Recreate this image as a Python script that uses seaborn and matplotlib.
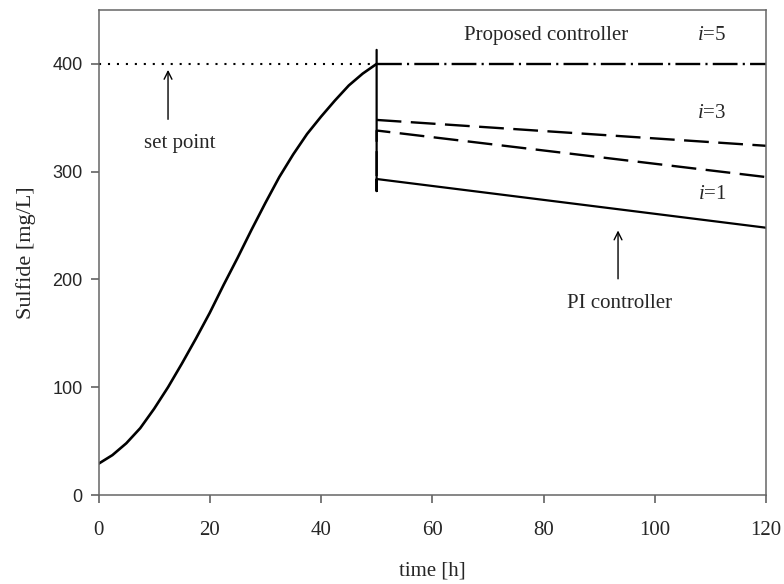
import matplotlib
matplotlib.use("Agg")
import matplotlib.pyplot as plt
import seaborn as sns
import pandas as pd

# ---- data ----
t_rise = [0, 2.5, 5, 7.5, 10, 12.5, 15, 17.5, 20, 22.5, 25, 27.5, 30, 32.5,
          35, 37.5, 40, 42.5, 45, 47.5, 50]
s_rise = [29, 37, 48, 62, 80, 100, 122, 145, 169, 195, 220, 246, 271, 295,
          316, 335, 351, 366, 380, 391, 400]

t_setpoint = [0, 50]
s_setpoint = [400, 400]

t_pi = [50, 50, 50, 50.3, 120]
s_pi = [413, 282, 293, 293, 248]

t_i1 = [50, 50, 50.3, 120]
s_i1 = [296, 338, 338, 295]

t_i3 = [50, 120]
s_i3 = [348, 324]

t_i5 = [50, 120]
s_i5 = [400, 400]

x_ticks = [0, 20, 40, 60, 80, 100, 120]
y_ticks = [0, 100, 200, 300, 400]

sns.set_style("ticks")
plt.rcParams["font.family"] = ["Liberation Serif", "DejaVu Serif"]
plt.rcParams["mathtext.fontset"] = "custom"
plt.rcParams["mathtext.rm"] = "Liberation Serif"
plt.rcParams["mathtext.it"] = "Liberation Serif:italic"

fig = plt.figure(figsize=(7.84, 5.84), dpi=100)
ax = fig.add_axes([98.5 / 784, 1 - 495 / 584, (766 - 98.5) / 784, (495 - 10) / 584])

def draw(t, s, lw, ls):
    df = pd.DataFrame({"t": t, "s": s})
    sns.lineplot(data=df, x="t", y="s", ax=ax, color="black", linewidth=lw,
                 linestyle=ls, sort=False, estimator=None)

draw(t_rise, s_rise, 1.9, "-")
draw(t_setpoint, s_setpoint, 1.5, (0, (1.0, 3.3)))
draw(t_pi, s_pi, 1.6, "-")
draw(t_i1, s_i1, 1.7, (0, (10.5, 4.0)))
draw(t_i3, s_i3, 1.7, (0, (10.5, 4.0)))
draw(t_i5, s_i5, 1.7, (0, (10.5, 2.2, 0.9, 2.2)))

ax.set_xlim(0, 120)
ax.set_ylim(0, 450)
ax.set_xticks(x_ticks)
ax.set_yticks(y_ticks)
ax.set_xlabel("time [h]", fontsize=15, labelpad=16)
ax.set_ylabel("Sulfide [mg/L]", fontsize=16, labelpad=12)

for lab in ax.get_xticklabels():
    lab.set_fontfamily("Liberation Serif")
    lab.set_fontsize(15)
for lab in ax.get_yticklabels():
    lab.set_fontfamily("Liberation Sans")
    lab.set_fontsize(13)

ax.tick_params(axis="both", direction="out", length=5.5, width=1.1, color="#555555",
               top=False, right=False)
ax.tick_params(axis="x", pad=13)
ax.tick_params(axis="y", pad=6)
for sp in ax.spines.values():
    sp.set_color("#666666")
    sp.set_linewidth(1.1)

tk = dict(fontsize=15, ha="center", va="center")
ax.text(80.5, 426, "Proposed controller", **tk)
ax.text(110.3, 426, r"$i$=5", **tk)
ax.text(110.3, 354, r"$i$=3", **tk)
ax.text(110.3, 279, r"$i$=1", **tk)
ax.text(14.6, 326, "set point", **tk)
ax.text(93.6, 178, "PI controller", **tk)

ap = dict(arrowstyle="->", color="black", lw=1.0, mutation_scale=14)
ax.annotate("", xy=(12.5, 397), xytext=(12.5, 346), arrowprops=ap)
ax.annotate("", xy=(93.4, 248), xytext=(93.4, 198), arrowprops=ap)

fig.savefig("out.png", dpi=100, facecolor="white")
